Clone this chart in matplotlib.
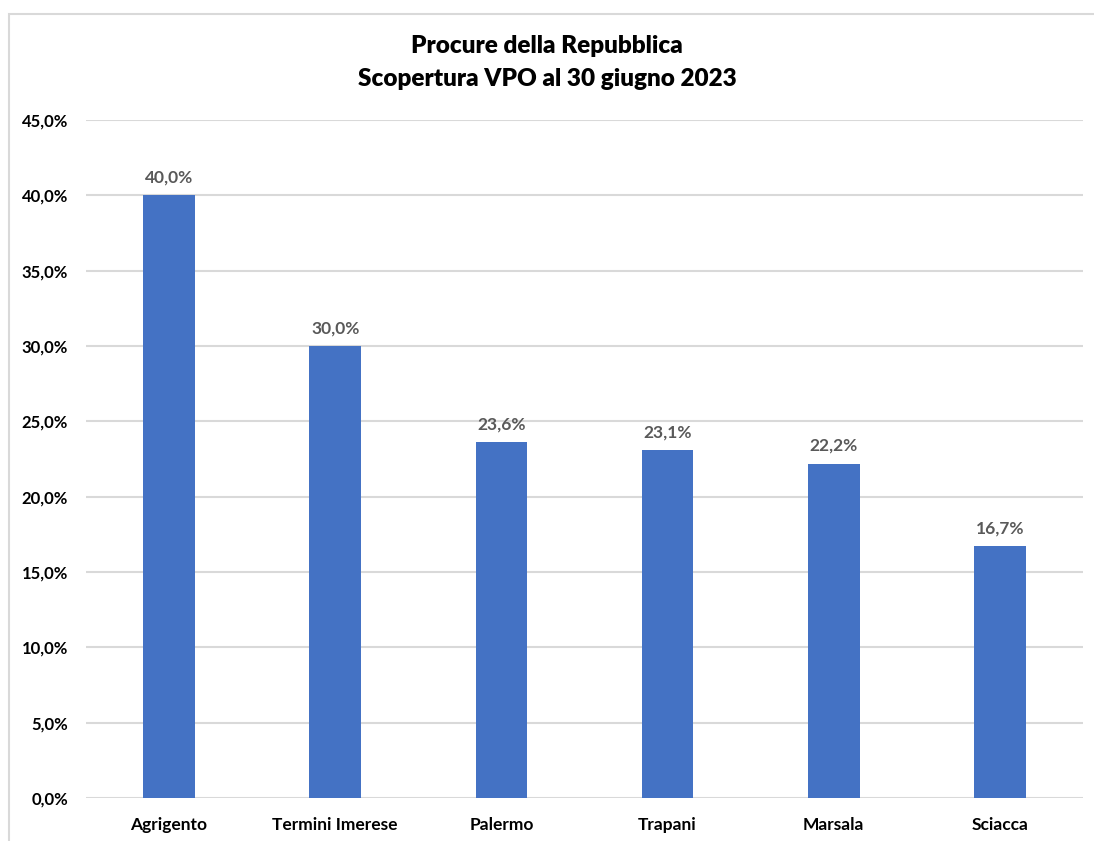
import matplotlib
matplotlib.use("Agg")
import matplotlib.pyplot as plt
from matplotlib.patches import Rectangle
from matplotlib.ticker import FuncFormatter, MultipleLocator

# Procure della Repubblica: VPO vacancy rate at 30 June 2023
procure = ["Agrigento", "Termini Imerese", "Palermo", "Trapani", "Marsala", "Sciacca"]
scopertura = [0.400, 0.300, 0.236, 0.231, 0.222, 0.167]
title_lines = ["Procure della Repubblica", "Scopertura VPO al 30 giugno 2023"]

plt.rcParams["font.family"] = ["Lato", "DejaVu Sans"]

fig = plt.figure(figsize=(10.94, 8.41), dpi=100)
fig.patch.set_facecolor("white")

# light outer frame of the chart
fig.patches.append(Rectangle((9 / 1094, -0.05), 1.2, 1 - 14 / 841 + 0.05,
                             transform=fig.transFigure, fill=False,
                             edgecolor="#d9d9d9", linewidth=1.5, zorder=0))

ax = fig.add_axes([86 / 1094, 43 / 841, (1083 - 86) / 1094, (798 - 120) / 841])
x = range(len(procure))
bars = ax.bar(x, scopertura, width=0.31, color="#4472C4", zorder=3)

ax.set_xlim(-0.5, len(procure) - 0.5)
ax.set_ylim(0, 0.45)
ax.yaxis.set_major_locator(MultipleLocator(0.05))
ax.yaxis.set_major_formatter(FuncFormatter(lambda v, p: f"{v * 100:.1f}%".replace(".", ",")))
ax.grid(axis="y", color="#d9d9d9", linewidth=1.5, zorder=0)
ax.set_axisbelow(True)
for s in ax.spines.values():
    s.set_visible(False)
ax.tick_params(axis="both", length=0, labelcolor="black")
ax.tick_params(axis="y", pad=13, labelsize=12)
ax.tick_params(axis="x", pad=14, labelsize=12.5)
ax.set_xticks(list(x))
ax.set_xticklabels(procure, fontweight="bold")
for lab in ax.get_yticklabels():
    lab.set_fontweight("bold")

for b, v in zip(bars, scopertura):
    ax.annotate(f"{v * 100:.1f}%".replace(".", ","),
                xy=(b.get_x() + b.get_width() / 2, v),
                xytext=(0, 7), textcoords="offset points",
                ha="center", va="bottom", fontsize=12.5, fontweight="bold",
                color="#595959")

fig.text(0.5, 1 - 46 / 841, title_lines[0], ha="center", va="center",
         fontsize=17.5, fontweight="heavy", color="black")
fig.text(0.5, 1 - 79 / 841, title_lines[1], ha="center", va="center",
         fontsize=17.5, fontweight="heavy", color="black")

fig.savefig("out.png", dpi=100, facecolor="white")
